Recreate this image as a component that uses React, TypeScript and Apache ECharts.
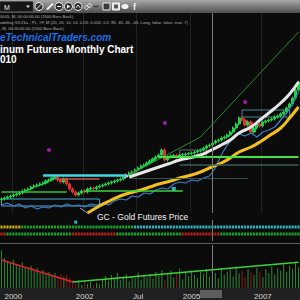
import React, { useEffect, useRef } from "react";
import * as echarts from "echarts";

const FONT = '"Liberation Sans", Arial, sans-serif';

// Monthly bars, Sep 1999 .. Jan 2008
const START_YEAR = 1999;
const START_MONTH = 9;
const BAR_COUNT = 101;
const months: string[] = [];
for (let k = 0; k < BAR_COUNT; k++) {
  const m = START_MONTH - 1 + k;
  months.push(`${START_YEAR + Math.floor(m / 12)}-${String((m % 12) + 1).padStart(2, "0")}`);
}

const tickLabels: [string, string][] = [
  ["2000-01", "2000"],
  ["2002-01", "2002"],
  ["2003-07", "Jul"],
  ["2005-01", "2005"],
  ["2007-01", "2007"],
];

// Platinum monthly [open, close, low, high]
const platinumOHLC: number[][] = [
  [356, 362, 344, 374], [362, 370, 350, 382], [370, 378, 358, 390], [378, 386, 366, 398], [386, 394, 374, 406],
  [394, 402, 382, 414], [402, 410, 390, 422], [410, 426, 398, 438], [426, 434, 414, 446], [434, 442, 422, 454],
  [442, 458, 430, 470], [458, 466, 446, 478], [466, 474, 454, 486], [474, 482, 462, 494], [482, 490, 470, 502],
  [490, 506, 478, 518], [506, 514, 494, 526], [514, 530, 502, 542], [530, 538, 518, 550], [538, 514, 502, 550],
  [514, 498, 486, 526], [498, 522, 486, 534], [522, 482, 470, 534], [482, 442, 430, 494], [442, 418, 406, 454],
  [418, 394, 382, 430], [394, 410, 382, 422], [410, 426, 398, 438], [426, 418, 406, 438], [418, 442, 406, 454],
  [442, 450, 430, 462], [450, 446, 434, 462], [446, 458, 434, 470], [458, 466, 446, 478], [466, 474, 454, 486],
  [474, 482, 462, 494], [482, 490, 470, 502], [490, 498, 478, 510], [498, 506, 486, 518], [506, 514, 494, 526],
  [514, 522, 502, 534], [522, 538, 510, 550], [538, 554, 526, 566], [554, 570, 542, 582], [570, 578, 558, 590],
  [578, 594, 566, 606], [594, 610, 582, 622], [610, 626, 598, 638], [626, 634, 614, 646], [634, 650, 622, 662],
  [650, 666, 638, 678], [666, 682, 654, 694], [682, 698, 670, 710], [698, 714, 686, 726], [714, 754, 702, 766],
  [754, 674, 662, 770], [674, 698, 662, 710], [698, 706, 686, 718], [706, 710, 694, 722], [710, 698, 686, 722],
  [698, 714, 686, 726], [714, 718, 702, 730], [718, 722, 706, 734], [722, 726, 710, 738], [726, 730, 714, 742],
  [730, 738, 718, 750], [738, 746, 726, 758], [746, 754, 734, 766], [754, 770, 742, 782], [770, 786, 758, 798],
  [786, 794, 774, 806], [794, 810, 782, 822], [810, 826, 798, 838], [826, 834, 814, 846], [834, 850, 822, 862],
  [850, 858, 838, 870], [858, 874, 846, 886], [874, 898, 862, 910], [898, 930, 886, 942], [930, 962, 918, 974],
  [962, 1010, 950, 1022], [1010, 994, 982, 1022], [994, 954, 942, 1006], [954, 978, 942, 990], [978, 898, 886, 990],
  [898, 930, 886, 942], [930, 962, 918, 974], [962, 946, 934, 974], [946, 978, 934, 990], [978, 986, 966, 998],
  [986, 994, 974, 1006], [994, 1002, 982, 1014], [1002, 1018, 990, 1030], [1018, 1026, 1006, 1038], [1026, 1042, 1014, 1054],
  [1042, 1058, 1030, 1070], [1058, 1090, 1046, 1102], [1090, 1122, 1078, 1134], [1122, 1170, 1110, 1182], [1170, 1234, 1158, 1246],
  [1234, 1298, 1222, 1310],
];
const pinkCandleIndex = 42;

const volume: number[] = [
  88, 70, 62, 58, 66, 55, 50, 60, 48,
  45, 52, 40, 47, 36, 42, 33, 38, 30, 35,
  28, 32, 26, 30, 24, 20,
  12, 18, 8, 15, 10, 14, 6, 12, 9,
  20, 28, 16, 30, 22, 35, 18, 26, 32, 15, 28, 24, 36, 20, 30, 25, 33,
  22, 38, 28, 42, 18, 35, 40, 25, 32, 45, 20, 36, 28, 41, 30, 24, 38,
  33, 44, 26, 40, 35, 22, 46, 30, 38, 42, 27, 48, 34, 40, 25, 44, 36,
  30, 47, 38, 26, 44, 35, 50, 32, 46, 40, 55, 38, 52, 45, 58, 48,
];

// [bar index, price]
const whiteCurve: number[][] = [
  [43, 538], [45, 554], [47, 570], [50, 594], [53, 618], [56, 642], [60, 674], [63, 690], [67, 714], [70, 746],
  [74, 794], [77, 834], [80, 890], [84, 938], [87, 994], [90, 1050], [94, 1130], [97, 1202], [100, 1298],
];
const yellowCurve: number[][] = [
  [29, 250], [33, 306], [37, 354], [40, 386], [43, 410], [47, 434], [50, 458], [53, 482], [57, 506], [60, 530],
  [64, 554], [67, 578], [70, 610], [74, 650], [77, 690], [80, 738], [84, 778], [87, 818], [90, 866], [94, 930],
  [97, 1010], [100, 1098],
];
const goldLine: number[][] = [
  [0, 314], [2, 330], [4, 306], [6, 322], [8, 290], [10, 306], [12, 282], [14, 298], [16, 290], [18, 314],
  [20, 298], [22, 322], [24, 306], [26, 314], [28, 298], [30, 322], [32, 314], [34, 330], [36, 314], [38, 346],
  [40, 362], [42, 354], [44, 386], [46, 378], [48, 410], [50, 402], [52, 434], [54, 450], [56, 442], [58, 482],
  [60, 498], [62, 490], [64, 514], [66, 506], [68, 530], [70, 546], [72, 610], [74, 714], [76, 794], [78, 850],
  [80, 882], [82, 866], [84, 890], [86, 858], [88, 898], [90, 914], [92, 938], [94, 994], [96, 1050], [98, 1122],
  [100, 1218],
];
const trendLine: number[][] = [[43, 554], [67, 858], [100, 1698]];

// [from bar, to bar, price]
const levels: number[][] = [
  [14, 42, 554], [18, 33, 522], [0, 22, 418], [28, 61, 426], [53, 100, 698], [60, 100, 634], [43, 83, 530],
];
// [from bar, to bar, low price, high price]
const boxes: number[][] = [
  [0, 33, 306, 362], [60, 69, 698, 754], [81, 97, 1018, 1074],
];
const magentaMarks: number[][] = [[16, 754], [55, 970], [82, 1138]];
const cyanMark: number[][] = [[58, 442]];

// indicator rows: [from bar, to bar, state]
const row1: [number, number, string][] = [[0, 6, "y"], [7, 44, "g"], [45, 100, "c"]];
const row2: [number, number, string][] = [[0, 1, "r"], [2, 23, "g"], [24, 38, "r"], [39, 60, "g"], [61, 73, "r"], [74, 100, "g"]];
const rowCyanDot: number[][] = [[25, 2.7]];

// volume trend: [bar, value]
const volDown: number[][] = [[0, 65], [24, 14]];
const volUp: number[][] = [[24, 14], [100, 60]];

const crosshairIndex = 71;

const levelColors = ["#3fd9e6", "#c4524a", "#35c235", "#3ad43a", "#44e044", "#3b5e5a", "#36524f"];
const levelWidths = [2.5, 1.5, 1.5, 1.5, 2, 1.5, 1];
const boxColors = ["#4aa8d0", "#5a6a6a", "#4a8a9a"];
const stateColors: Record<string, string> = { y: "#f2d21e", g: "#22c23a", c: "#3fd7e8", r: "#e02424" };

function buildOption(): any {
  const tickMap: Record<string, string> = {};
  tickLabels.forEach(([k, v]) => (tickMap[k] = v));
  const isTick = (_i: number, v: string) => tickMap[v] !== undefined;

  const candleData = platinumOHLC.map((r, i) =>
    i === pinkCandleIndex
      ? { value: r, itemStyle: { color: "#f4b4d4", borderColor: "#f4b4d4" } }
      : r
  );
  const volData = volume.map((v, i) => ({
    value: v,
    itemStyle: { color: platinumOHLC[i][1] >= platinumOHLC[i][0] ? "#2f8a38" : "#8e2020" },
  }));
  const rowPoints = (segs: [number, number, string][], y: number) => {
    const out: any[] = [];
    segs.forEach(([a, b, s]) => {
      for (let i = a; i <= b; i++) out.push({ value: [i, y], itemStyle: { color: stateColors[s] } });
    });
    return out;
  };
  const crossLine = {
    silent: true,
    symbol: ["none", "none"],
    label: { show: false },
    lineStyle: { color: "#7c7c7c", width: 1, type: "solid" },
    data: [{ xAxis: crosshairIndex }],
  };

  const graphic: any[] = [
    { type: "rect", z: -10, shape: { x: 0, y: 288, width: 300, height: 12 }, style: { fill: "#202020" } },
    { type: "rect", z: 60, shape: { x: 200, y: 290, width: 22, height: 8 }, style: { fill: "#5e5e5e" } },
    { type: "line", z: 60, shape: { x1: 0, y1: 243.5, x2: 300, y2: 243.5 }, style: { stroke: "#5a5a5a", lineWidth: 1 } },
    {
      type: "rect", z: 100, shape: { x: 0, y: 0, width: 300, height: 13 },
      style: { fill: new echarts.graphic.LinearGradient(0, 0, 0, 1, [{ offset: 0, color: "#a8a8a8" }, { offset: 1, color: "#4e4e4e" }]) },
    },
    { type: "rect", z: 101, shape: { x: 0, y: 1.5, width: 33, height: 10 }, style: { fill: "#161616", stroke: "#4a4a4a", lineWidth: 0.5 } },
    { type: "text", z: 102, style: { text: "M", x: 4, y: 7, fill: "#e8e8e8", fontSize: 7, fontFamily: FONT, verticalAlign: "middle" } },
    { type: "polygon", z: 102, shape: { points: [[26, 5.5], [30, 5.5], [28, 8]] }, style: { fill: "#dddddd" } },
    { type: "circle", z: 102, shape: { cx: 39, cy: 6.5, r: 4 }, style: { fill: "#2a2a2a", stroke: "#eeeeee", lineWidth: 1 } },
    { type: "line", z: 103, shape: { x1: 36.5, y1: 9, x2: 41.5, y2: 4 }, style: { stroke: "#eeeeee", lineWidth: 1 } },
    { type: "line", z: 102, shape: { x1: 47, y1: 9.5, x2: 53, y2: 3.5 }, style: { stroke: "#f0f0f0", lineWidth: 2 } },
    { type: "circle", z: 102, shape: { cx: 59, cy: 6.5, r: 4 }, style: { fill: "#2a2a2a", stroke: "#eeeeee", lineWidth: 1 } },
    { type: "line", z: 103, shape: { x1: 57, y1: 6.5, x2: 61, y2: 6.5 }, style: { stroke: "#eeeeee", lineWidth: 1 } },
    { type: "circle", z: 102, shape: { cx: 68.5, cy: 6.5, r: 4 }, style: { fill: "#2a2a2a", stroke: "#eeeeee", lineWidth: 1 } },
    { type: "polygon", z: 103, shape: { points: [[67, 4.5], [70.5, 6.5], [67, 8.5]] }, style: { fill: "#eeeeee" } },
    { type: "circle", z: 102, shape: { cx: 78, cy: 6.5, r: 4 }, style: { fill: "#2a2a2a", stroke: "#eeeeee", lineWidth: 1 } },
    { type: "polyline", z: 103, shape: { points: [[76, 7.8], [78, 5], [80, 7.8]] }, style: { stroke: "#eeeeee", lineWidth: 1, fill: "none" } },
    { type: "circle", z: 102, shape: { cx: 86.5, cy: 7.5, r: 1.8 }, style: { fill: "none", stroke: "#eeeeee", lineWidth: 1 } },
    { type: "circle", z: 102, shape: { cx: 89.5, cy: 5.5, r: 1.8 }, style: { fill: "none", stroke: "#eeeeee", lineWidth: 1 } },
    { type: "line", z: 102, shape: { x1: 93.5, y1: 6.5, x2: 98.5, y2: 6.5 }, style: { stroke: "#3a3a3a", lineWidth: 1.5 } },
    { type: "rect", z: 102, shape: { x: 103, y: 3, width: 7, height: 7 }, style: { fill: "#3a3a3a", stroke: "#eeeeee", lineWidth: 1 } },
    { type: "rect", z: 102, shape: { x: 112.5, y: 3, width: 7, height: 7 }, style: { fill: "#eeeeee", stroke: "#eeeeee", lineWidth: 1 } },
    { type: "rect", z: 103, shape: { x: 114, y: 4.5, width: 4, height: 4 }, style: { fill: "#555555" } },
    { type: "ellipse", z: 102, shape: { cx: 125, cy: 6.5, rx: 3.5, ry: 2.6 }, style: { fill: "#f2f2f2" } },
    { type: "text", z: 102, style: { text: "f", x: 133, y: 7, fill: "#f2f2f2", fontSize: 9, fontWeight: "bold", fontFamily: FONT, verticalAlign: "middle" } },
    { type: "text", z: 100, style: { text: "0005, M, 00:00:00.00 (1500 Bars Back)", x: 0, y: 16, fill: "#b4b4b4", fontSize: 4.2, fontFamily: FONT, verticalAlign: "middle" } },
    { type: "text", z: 100, style: { text: "odeling V3.21a - PL, #F, M (20, 20, 14, 14, 0.05, 0.002, 0.2, 85, 40, 45, -45, Long, false, false, true, 7)", x: 0, y: 22, fill: "#b4b4b4", fontSize: 4.2, fontFamily: FONT, verticalAlign: "middle" } },
    { type: "text", z: 100, style: { text: ", M, 00:00:00.00 (1500 Bars Back)", x: 0, y: 28.5, fill: "#b4b4b4", fontSize: 4.2, fontFamily: FONT, verticalAlign: "middle" } },
    { type: "text", z: 100, style: { text: "eTechnicalTraders.com", x: 0, y: 37.5, fill: "#1e6ee6", fontSize: 10, fontWeight: "bold", fontStyle: "italic", fontFamily: FONT, verticalAlign: "middle" } },
    { type: "text", z: 100, style: { text: "inum Futures Monthly Chart", x: 0, y: 49, fill: "#ffffff", fontSize: 10, fontWeight: "bold", fontFamily: FONT, verticalAlign: "middle" } },
    { type: "text", z: 100, style: { text: "010", x: 0, y: 59.5, fill: "#ffffff", fontSize: 10, fontWeight: "bold", fontFamily: FONT, verticalAlign: "middle" } },
    { type: "line", z: 100, shape: { x1: 80, y1: 208, x2: 89, y2: 214 }, style: { stroke: "#9a9a9a", lineWidth: 1 } },
    { type: "text", z: 100, style: { text: "GC - Gold Futures Price", x: 97, y: 216.5, fill: "#f4f4f4", fontSize: 8.5, fontFamily: FONT, verticalAlign: "middle" } },
  ];

  return {
    animation: false,
    backgroundColor: "#0b0b0b",
    graphic,
    grid: [
      { left: 0, right: 0, top: 13, height: 200 },
      { left: 0, right: 0, top: 220, height: 21 },
      { left: 0, right: 0, top: 245, height: 43 },
    ],
    xAxis: [
      {
        type: "category", gridIndex: 0, data: months,
        axisLine: { show: false }, axisTick: { show: false }, axisLabel: { show: false },
        splitLine: { show: true, interval: isTick, lineStyle: { color: "#222222", width: 1 } },
      },
      { type: "category", gridIndex: 1, data: months, show: false },
      {
        type: "category", gridIndex: 2, data: months,
        axisLine: { show: false }, axisTick: { show: false },
        splitLine: { show: false },
        axisLabel: {
          interval: isTick, formatter: (v: string) => tickMap[v] ?? "",
          color: "#d4d4d4", fontSize: 8, margin: 4, fontFamily: FONT,
        },
      },
    ],
    yAxis: [
      { type: "value", gridIndex: 0, min: 250, max: 1850, show: false },
      { type: "value", gridIndex: 1, min: 0, max: 3, show: false },
      { type: "value", gridIndex: 2, min: 0, max: 100, show: false },
    ],
    series: [
      {
        type: "line", xAxisIndex: 0, yAxisIndex: 0, data: trendLine, showSymbol: false, silent: true,
        lineStyle: { color: "#2a8a2a", width: 1 },
      },
      {
        type: "line", xAxisIndex: 0, yAxisIndex: 0, data: goldLine, showSymbol: false, silent: true,
        lineStyle: { color: "#3d7fc6", width: 1.2 },
        markLine: {
          silent: true, symbol: ["none", "none"], label: { show: false },
          data: levels.map(([a, b, p], k) => [
            { coord: [a, p], lineStyle: { color: levelColors[k], width: levelWidths[k], type: "solid" } },
            { coord: [b, p] },
          ]),
        },
      },
      {
        type: "line", xAxisIndex: 0, yAxisIndex: 0, data: yellowCurve, smooth: true, showSymbol: false, silent: true,
        lineStyle: { color: "#f2c01e", width: 3 },
        markArea: {
          silent: true, label: { show: false },
          data: boxes.map(([a, b, lo, hi], k) => [
            { coord: [a, lo], itemStyle: { color: "rgba(0,0,0,0)", borderColor: boxColors[k], borderWidth: 1 } },
            { coord: [b, hi] },
          ]),
        },
      },
      {
        type: "line", xAxisIndex: 0, yAxisIndex: 0, data: whiteCurve, smooth: true, showSymbol: false, silent: true,
        lineStyle: { color: "#e6e6e6", width: 3 },
      },
      {
        type: "candlestick", xAxisIndex: 0, yAxisIndex: 0, data: candleData, barWidth: 2.6, silent: true,
        itemStyle: { color: "#1fd04a", color0: "#e53030", borderColor: "#1fd04a", borderColor0: "#e53030", borderWidth: 1 },
        markLine: crossLine,
      },
      {
        type: "scatter", xAxisIndex: 0, yAxisIndex: 0, data: magentaMarks, symbol: "circle", symbolSize: 4, silent: true,
        itemStyle: { color: "#c21ec8" },
      },
      {
        type: "scatter", xAxisIndex: 0, yAxisIndex: 0, data: cyanMark, symbol: "rect", symbolSize: 4, silent: true,
        itemStyle: { color: "#40e0f0" },
      },
      {
        type: "scatter", xAxisIndex: 1, yAxisIndex: 1, data: rowPoints(row1, 2), symbol: "rect", symbolSize: [2.2, 3], silent: true,
      },
      {
        type: "scatter", xAxisIndex: 1, yAxisIndex: 1, data: rowPoints(row2, 1), symbol: "rect", symbolSize: [2.2, 3], silent: true,
        markLine: crossLine,
      },
      {
        type: "scatter", xAxisIndex: 1, yAxisIndex: 1, data: rowCyanDot, symbol: "rect", symbolSize: 3, silent: true,
        itemStyle: { color: "#40e0f0" },
      },
      {
        type: "bar", xAxisIndex: 2, yAxisIndex: 2, data: volData, barWidth: 1, silent: true,
        markLine: crossLine,
      },
      {
        type: "line", xAxisIndex: 2, yAxisIndex: 2, data: volDown, showSymbol: false, silent: true,
        lineStyle: { color: "#e02424", width: 1.5 },
      },
      {
        type: "line", xAxisIndex: 2, yAxisIndex: 2, data: volUp, showSymbol: false, silent: true,
        lineStyle: { color: "#3ad43a", width: 1.5 },
      },
    ],
  };
}

export default function App() {
  const ref = useRef<HTMLDivElement>(null);
  useEffect(() => {
    if (!ref.current) return;
    const chart = echarts.init(ref.current, null, { renderer: "svg" });
    chart.setOption(buildOption());
    return () => chart.dispose();
  }, []);
  return <div ref={ref} style={{ position: "fixed", left: 0, top: 0, width: 300, height: 300 }} />;
}
